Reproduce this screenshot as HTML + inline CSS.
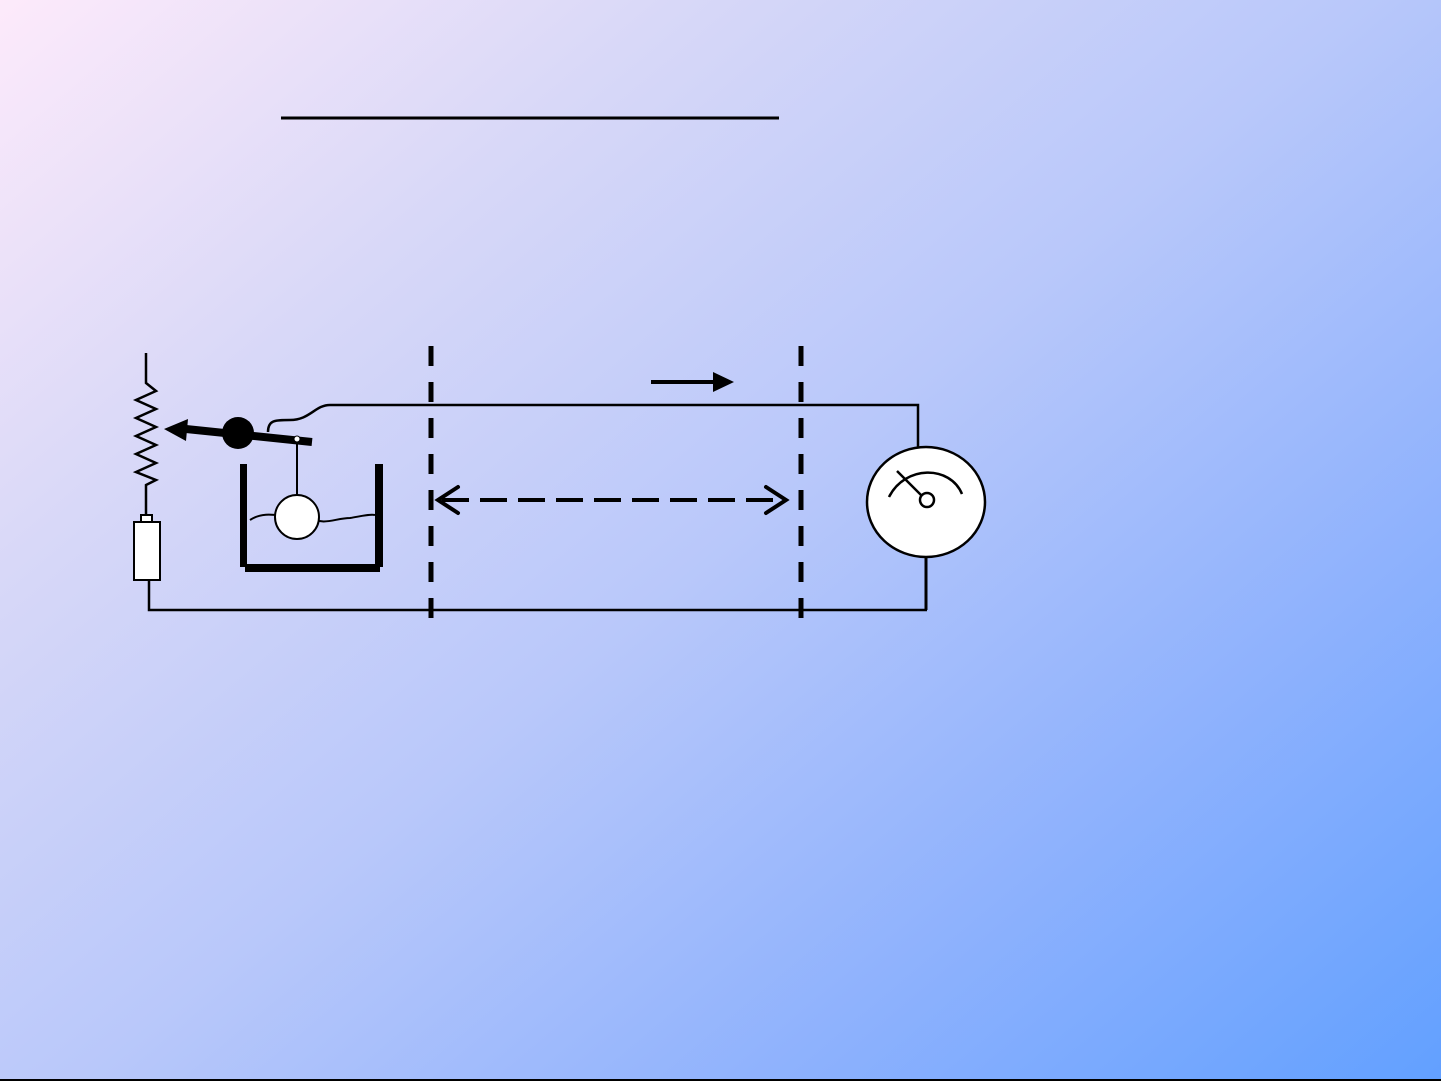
<!DOCTYPE html>
<html><head><meta charset="utf-8"><style>
html,body{margin:0;padding:0}
body{width:1441px;height:1081px;overflow:hidden;background:linear-gradient(140deg,#fdeafa 0%,#d8d8f8 25%,#b9c8fa 50%,#8fb2fd 75%,#62a0ff 100%);}
svg{position:absolute;left:0;top:0}
</style></head><body>
<svg width="1441" height="1081" viewBox="0 0 1441 1081" fill="none" stroke="#000">
<line x1="281" y1="118" x2="779" y2="118" stroke-width="3"/>
<!-- resistor -->
<polyline points="146,353 146,383 156,391 136,400 156,409 136,418 156,427 136,436 156,445 136,454 156,463 136,472 156,480 146,485 146,515" stroke-width="2.5" stroke-linejoin="miter"/>
<rect x="141" y="515" width="11" height="7" fill="#fff" stroke-width="2"/>
<rect x="134" y="522" width="26" height="58" fill="#fff" stroke-width="2"/>
<polyline points="149,580 149,610 927,610" stroke-width="2.5"/>
<!-- lever -->
<line x1="186" y1="429" x2="312" y2="442" stroke-width="8"/>
<polygon points="164,429 188,419 186,441" fill="#000" stroke="none"/>
<circle cx="238" cy="433" r="16" fill="#000" stroke="none"/>
<line x1="297" y1="439" x2="297" y2="497" stroke-width="2"/>
<circle cx="297" cy="439" r="3" fill="#fff" stroke-width="1"/>
<path d="M250,520 C262,512 275,515 285,516 M310,516 C322,527 335,518 350,518 C362,516 370,514 375,515" stroke-width="2"/>
<circle cx="297" cy="517" r="22" fill="#fff" stroke-width="2"/>
<rect x="240" y="464" width="7" height="103" fill="#000" stroke="none"/>
<rect x="375" y="464" width="8" height="103" fill="#000" stroke="none"/>
<rect x="245" y="564" width="135" height="8" fill="#000" stroke="none"/>
<!-- wire -->
<path d="M268,432 C268,420 275,420 290,420 C310,420 315,405 330,405 L918,405 L918,450" stroke-width="2.5"/>
<!-- meter -->
<ellipse cx="926" cy="502" rx="59" ry="55" fill="#fff" stroke-width="2.5"/>
<path d="M889,497 C905,465 950,465 962,494" stroke-width="2.5"/>
<line x1="897" y1="471" x2="922" y2="496" stroke-width="2.5"/>
<circle cx="927" cy="500" r="7" fill="#fff" stroke-width="2.5"/>
<line x1="926" y1="557" x2="926" y2="610" stroke-width="3"/>
<!-- dashed -->
<line x1="431" y1="346" x2="431" y2="618" stroke-width="5" stroke-dasharray="20 16"/>
<line x1="801" y1="346" x2="801" y2="618" stroke-width="5" stroke-dasharray="20 16"/>
<line x1="442" y1="500" x2="782" y2="500" stroke-width="4" stroke-dasharray="27 11"/>
<polyline points="458,487 438,500 458,513" stroke-width="4" stroke-linecap="round"/>
<polyline points="766,487 786,500 766,513" stroke-width="4" stroke-linecap="round"/>
<!-- small arrow -->
<line x1="651" y1="382" x2="715" y2="382" stroke-width="4"/>
<polygon points="713,372 734,382 713,392" fill="#000" stroke="none"/>
<line x1="0" y1="1080" x2="1441" y2="1080" stroke-width="2"/>
</svg>
</body></html>
